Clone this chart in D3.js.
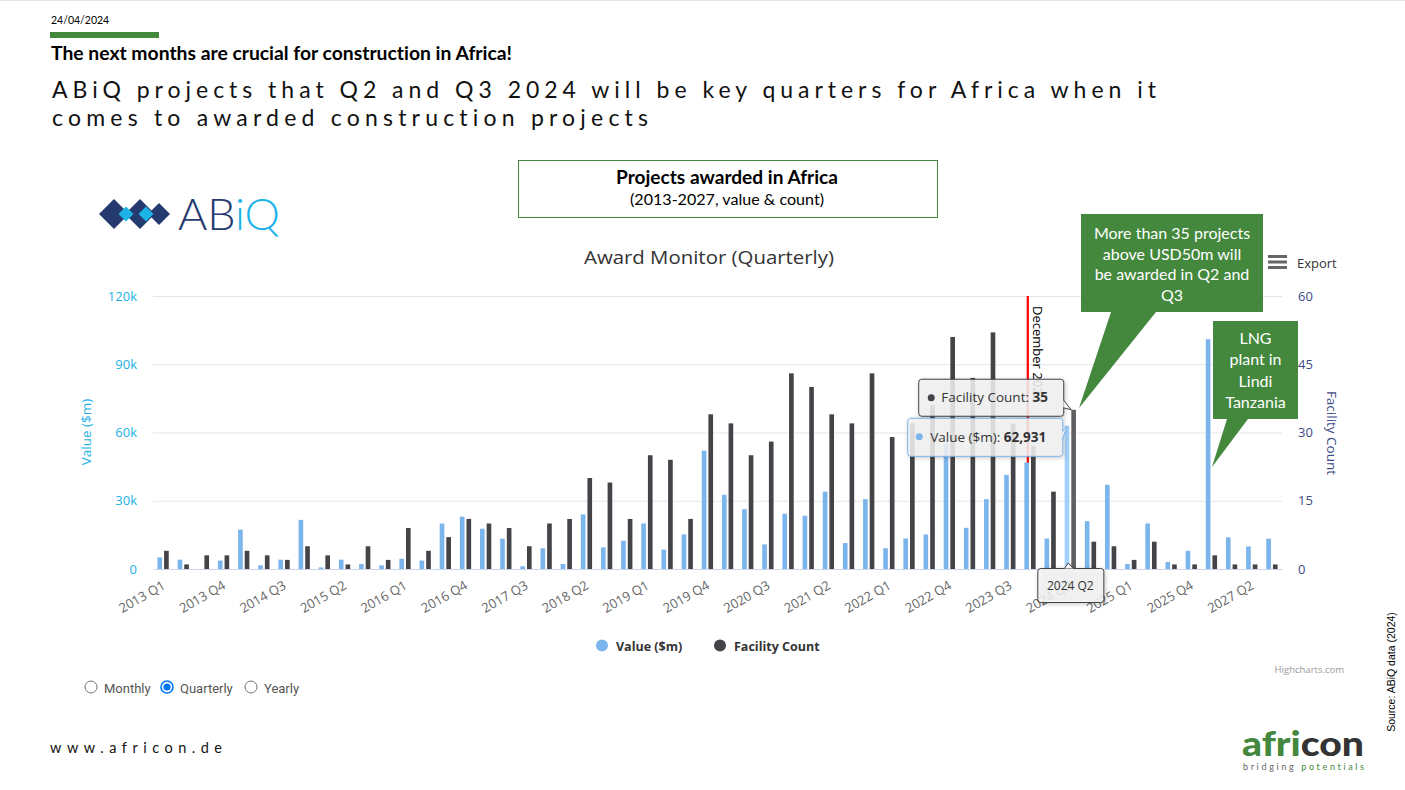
<!DOCTYPE html>
<html lang="en">
<head>
<meta charset="UTF-8">
<title>Projects awarded in Africa</title>
<script src="https://d3js.org/d3.v7.min.js"></script>
<style>
  body { margin: 0; background: #fff; }
  svg { display: block; }
  .slide { font-family: Lato, "Open Sans", sans-serif; font-variant-ligatures: none; }
  .chart text { font-family: "Open Sans", sans-serif; }
</style>
</head>
<body>
<svg id="slide" class="slide" width="1405" height="790"></svg>
<script>
// quarters on the x axis (2026/2027 have gaps in the source)
const categories = [
  "2013 Q1","2013 Q2","2013 Q3","2013 Q4","2014 Q1","2014 Q2","2014 Q3","2014 Q4",
  "2015 Q1","2015 Q2","2015 Q3","2015 Q4","2016 Q1","2016 Q2","2016 Q3","2016 Q4",
  "2017 Q1","2017 Q2","2017 Q3","2017 Q4","2018 Q1","2018 Q2","2018 Q3","2018 Q4",
  "2019 Q1","2019 Q2","2019 Q3","2019 Q4","2020 Q1","2020 Q2","2020 Q3","2020 Q4",
  "2021 Q1","2021 Q2","2021 Q3","2021 Q4","2022 Q1","2022 Q2","2022 Q3","2022 Q4",
  "2023 Q1","2023 Q2","2023 Q3","2023 Q4","2024 Q1","2024 Q2","2024 Q3","2024 Q4",
  "2025 Q1","2025 Q2","2025 Q3","2025 Q4","2026 Q2","2026 Q4","2027 Q2","2027 Q3"
];
// awarded value, $m
const values = [
  5100, 4100, 0, 3700, 17300, 1600, 4100, 21600,
  700, 4100, 2200, 1600, 4500, 3700, 20000, 23000,
  17700, 13300, 1200, 9100, 2200, 24000, 9500, 12400,
  20000, 8500, 15200, 52000, 32600, 26300, 10800, 24300,
  23400, 34000, 11400, 30700, 9100, 13400, 15200, 55000,
  18100, 30700, 41400, 46800, 13400, 62931, 21000, 37000,
  2200, 20000, 3100, 8000, 101000, 13900, 9900, 13300
];
// number of facilities awarded
const counts = [
  4, 1, 3, 3, 4, 3, 2, 5,
  3, 1, 5, 2, 9, 4, 7, 11,
  10, 9, 5, 10, 11, 20, 19, 11,
  25, 24, 11, 34, 32, 25, 28, 43,
  40, 34, 32, 43, 29, 32, 36, 51,
  42, 52, 32, 27, 17, 35, 6, 5,
  2, 6, 1, 1, 3, 1, 1, 1
];
const valueTicks = [0, 30000, 60000, 90000, 120000];
const countTicks = [0, 15, 30, 45, 60];
const seriesNames = ["Value ($m)", "Facility Count"];
const highlighted = "2024 Q2";
const markerCategory = "2023 Q4";
const markerLabel = "December 2023";
const radioOptions = ["Monthly", "Quarterly", "Yearly"];

const blue = "#7cb5ec", dark = "#434348", green = "#43883d";
const svg = d3.select("#slide");

// ---------- slide header ----------
svg.append("line").attr("x1", 0).attr("x2", 1405).attr("y1", 0.5).attr("y2", 0.5)
  .attr("stroke", "#e4e4e4");
svg.append("text").attr("x", 51).attr("y", 24).attr("font-size", 10.5).attr("fill", "#000")
  .text("24/04/2024");
svg.append("rect").attr("x", 50).attr("y", 32).attr("width", 109).attr("height", 6).attr("fill", green);
svg.append("text").attr("x", 51).attr("y", 60).attr("font-size", 18).attr("font-weight", 700)
  .attr("textLength", 461).attr("lengthAdjust", "spacingAndGlyphs")
  .text("The next months are crucial for construction in Africa!");
svg.append("text").attr("x", 52).attr("y", 98).attr("font-size", 23).attr("fill", "#111")
  .attr("textLength", 1104).attr("lengthAdjust", "spacing")
  .text("ABiQ projects that Q2 and Q3 2024 will be key quarters for Africa when it");
svg.append("text").attr("x", 52).attr("y", 126).attr("font-size", 23).attr("fill", "#111")
  .attr("textLength", 596).attr("lengthAdjust", "spacing")
  .text("comes to awarded construction projects");

// boxed heading
svg.append("rect").attr("x", 518.5).attr("y", 160.5).attr("width", 419).attr("height", 57)
  .attr("fill", "none").attr("stroke", green);
svg.append("text").attr("x", 727).attr("y", 184).attr("text-anchor", "middle")
  .attr("font-size", 18).attr("font-weight", 700).attr("textLength", 222)
  .attr("lengthAdjust", "spacingAndGlyphs").text("Projects awarded in Africa");
svg.append("text").attr("x", 727).attr("y", 205).attr("text-anchor", "middle")
  .attr("font-size", 14.5).attr("textLength", 194).attr("lengthAdjust", "spacingAndGlyphs")
  .text("(2013-2027, value & count)");

// ABiQ logo
const logo = svg.append("g");
const diamond = (cx, cy, r) => `M${cx - r},${cy} L${cx},${cy - r} L${cx + r},${cy} L${cx},${cy + r} Z`;
logo.append("path").attr("d", diamond(114, 214, 15)).attr("fill", "#253a6e");
logo.append("path").attr("d", diamond(140, 214, 15)).attr("fill", "#253a6e");
logo.append("path").attr("d", diamond(159, 214, 11)).attr("fill", "#253a6e");
logo.append("path").attr("d", diamond(126, 214, 7.5)).attr("fill", "#1db3e6");
logo.append("path").attr("d", diamond(146, 214, 7.5)).attr("fill", "#1db3e6");
const abiq = logo.append("text").attr("x", 178).attr("y", 230).attr("font-size", 44)
  .attr("font-weight", 300).attr("textLength", 102).attr("lengthAdjust", "spacingAndGlyphs");
abiq.append("tspan").attr("fill", "#253a6e").text("AB");
abiq.append("tspan").attr("fill", "#1db3e6").text("iQ");

// ---------- chart ----------
const chart = svg.append("g").attr("class", "chart");
const plotL = 153, plotR = 1282, plotT = 296, plotB = 569;

const x = d3.scaleBand().domain(categories).range([plotL, plotR]);
const xs = d3.scaleBand().domain(["value", "count"])
  .range([x.bandwidth() * 0.22, x.bandwidth() * 0.78]).paddingInner(0.3);
const yL = d3.scaleLinear().domain([0, 120000]).range([plotB, plotT]);
const yR = d3.scaleLinear().domain([0, 60]).range([plotB, plotT]);

chart.append("text").attr("x", 709).attr("y", 264).attr("text-anchor", "middle")
  .attr("font-size", 19).attr("fill", "#333").attr("textLength", 250)
  .attr("lengthAdjust", "spacingAndGlyphs").text("Award Monitor (Quarterly)");

// gridlines
chart.append("g")
  .attr("transform", `translate(${plotL},0)`)
  .call(d3.axisLeft(yL).tickValues(valueTicks).tickSize(-(plotR - plotL)).tickFormat(""))
  .call(g => g.select(".domain").remove())
  .call(g => g.selectAll("line").attr("stroke", "#e6e6e6"));

// left axis
chart.append("g")
  .attr("transform", `translate(${plotL - 16},0)`)
  .call(d3.axisLeft(yL).tickValues(valueTicks).tickSize(0)
    .tickFormat(d => d === 0 ? "0" : d / 1000 + "k"))
  .call(g => g.select(".domain").remove())
  .call(g => g.selectAll("text").attr("fill", "#22b1e6").attr("font-size", 13).attr("x", 0));
chart.append("text").attr("transform", "translate(91,432) rotate(-90)")
  .attr("text-anchor", "middle").attr("font-size", 13.5).attr("fill", "#22b1e6").text("Value ($m)");

// right axis
chart.append("g")
  .attr("transform", `translate(${plotR + 16},0)`)
  .call(d3.axisRight(yR).tickValues(countTicks).tickSize(0))
  .call(g => g.select(".domain").remove())
  .call(g => g.selectAll("text").attr("fill", "#3d4b86").attr("font-size", 13).attr("x", 0));
chart.append("text").attr("transform", "translate(1327,433) rotate(90)")
  .attr("text-anchor", "middle").attr("font-size", 13.5).attr("fill", "#3d4b86").text("Facility Count");

// plot line for December 2023 (sits behind the bars)
const mx = x(markerCategory) + xs("value") + xs.bandwidth() - 1.2;
chart.append("line").attr("x1", mx).attr("x2", mx).attr("y1", plotT).attr("y2", plotB)
  .attr("stroke", "#ff0000").attr("stroke-width", 2.2);
chart.append("text").attr("transform", `translate(${mx + 5},${plotT + 10}) rotate(90)`)
  .attr("font-size", 13).attr("fill", "#000").text(markerLabel);

// bars
const groups = chart.append("g").selectAll("g").data(categories).join("g")
  .attr("transform", d => `translate(${x(d)},0)`);
groups.append("rect")
  .attr("x", xs("value")).attr("width", xs.bandwidth())
  .attr("y", (d, i) => yL(values[i])).attr("height", (d, i) => plotB - yL(values[i]))
  .attr("fill", d => d === highlighted ? "#a3d0fb" : blue);
groups.append("rect")
  .attr("x", xs("count")).attr("width", xs.bandwidth())
  .attr("y", (d, i) => yR(counts[i])).attr("height", (d, i) => plotB - yR(counts[i]))
  .attr("fill", d => d === highlighted ? "#5e5e63" : dark);

// x axis
chart.append("g")
  .attr("transform", `translate(0,${plotB})`)
  .call(d3.axisBottom(x).tickValues(categories.filter((d, i) => i % 3 === 0)).tickSize(0))
  .call(g => g.select(".domain").attr("stroke", "#ccd6eb"))
  .call(g => g.selectAll("text")
    .attr("fill", "#666").attr("font-size", 13)
    .attr("text-anchor", "end").attr("y", 0).attr("dy", 0)
    .attr("transform", "translate(3,19) rotate(-30)"));

// split tooltip for the highlighted quarter
const hi = categories.indexOf(highlighted);
const hx = x(highlighted);
const tip = chart.append("g");
const tipBox = (bx, by, w, h, stroke) => tip.append("rect")
  .attr("x", bx + 0.5).attr("y", by + 0.5).attr("width", w).attr("height", h).attr("rx", 3)
  .attr("fill", "rgba(247,247,247,0.85)").attr("stroke", stroke)
  .style("filter", "drop-shadow(1px 1px 2px rgba(0,0,0,0.25))");

const cyTop = yR(counts[hi]);
tipBox(hx - 142, cyTop - 31, 145, 37, dark);
tip.append("path")
  .attr("d", `M${hx + 3},${cyTop - 10} L${hx + 11},${cyTop} L${hx + 3},${cyTop - 2}`)
  .attr("fill", "rgba(247,247,247,0.85)").attr("stroke", dark);
tip.append("circle").attr("cx", hx - 129).attr("cy", cyTop - 12).attr("r", 3.5).attr("fill", dark);
const t1 = tip.append("text").attr("x", hx - 119).attr("y", cyTop - 7.5).attr("font-size", 13.5).attr("fill", "#333");
t1.append("tspan").text(seriesNames[1] + ": ");
t1.append("tspan").attr("font-weight", 700).text(counts[hi]);

const vyTop = yL(values[hi]);
tipBox(hx - 153, vyTop - 8, 155, 38, blue);
tip.append("path")
  .attr("d", `M${hx + 2},${vyTop + 6} L${hx + 7},${vyTop} L${hx + 2},${vyTop + 14}`)
  .attr("fill", "rgba(247,247,247,0.85)").attr("stroke", blue);
tip.append("circle").attr("cx", hx - 141).attr("cy", vyTop + 11).attr("r", 3.5).attr("fill", blue);
const t2 = tip.append("text").attr("x", hx - 130).attr("y", vyTop + 16).attr("font-size", 13.5).attr("fill", "#333");
t2.append("tspan").text(seriesNames[0] + ": ");
t2.append("tspan").attr("font-weight", 700).text(d3.format(",")(values[hi]));

// category header on the axis
const cx = hx + x.bandwidth() / 2;
tipBox(cx - 33, plotB - 1, 66, 34, "#444");
tip.append("path")
  .attr("d", `M${cx - 6},${plotB - 0.5} L${cx - 2},${plotB - 6} L${cx + 3},${plotB - 0.5}`)
  .attr("fill", "rgba(247,247,247,0.95)").attr("stroke", "#444");
tip.append("text").attr("x", cx).attr("y", plotB + 21).attr("text-anchor", "middle")
  .attr("font-size", 12).attr("fill", "#333").text(highlighted);

// legend
const legend = chart.append("g");
[[602, blue, seriesNames[0]], [720, dark, seriesNames[1]]].forEach(([lx, c, name]) => {
  legend.append("circle").attr("cx", lx).attr("cy", 645.5).attr("r", 6).attr("fill", c);
  legend.append("text").attr("x", lx + 14).attr("y", 650.5).attr("font-size", 12.5)
    .attr("font-weight", 700).attr("fill", "#333").text(name);
});

chart.append("text").attr("x", 1344).attr("y", 673).attr("text-anchor", "end")
  .attr("font-size", 9.5).attr("fill", "#999").text("Highcharts.com");

// export button
[255, 260.5, 266].forEach(hy => chart.append("rect").attr("x", 1268).attr("y", hy)
  .attr("width", 19).attr("height", 3).attr("fill", "#666"));
chart.append("text").attr("x", 1297).attr("y", 268).attr("font-size", 13).attr("fill", "#333").text("Export");

// radio buttons
const radioX = [91, 167, 251];
radioOptions.forEach((name, i) => {
  const rx = radioX[i];
  if (name === "Quarterly") {
    svg.append("circle").attr("cx", rx).attr("cy", 687).attr("r", 6).attr("fill", "#fff")
      .attr("stroke", "#0075ff").attr("stroke-width", 1.6);
    svg.append("circle").attr("cx", rx).attr("cy", 687).attr("r", 3.6).attr("fill", "#0075ff");
  } else {
    svg.append("circle").attr("cx", rx).attr("cy", 687).attr("r", 6).attr("fill", "#fff")
      .attr("stroke", "#767676").attr("stroke-width", 1);
  }
  svg.append("text").attr("x", rx + 13).attr("y", 692.5).attr("font-family", "Roboto")
    .attr("font-size", 13).attr("fill", "#555").text(name);
});

// callouts
const callout = (x0, y0, x1, y1, b1, b2, tx, ty, lines, lineY, lh) => {
  svg.append("path")
    .attr("d", `M${x0},${y0} H${x1} V${y1} H${b2} L${tx},${ty} L${b1},${y1} H${x0} Z`)
    .attr("fill", green);
  lines.forEach((l, i) => svg.append("text").attr("x", (x0 + x1) / 2).attr("y", lineY + i * lh)
    .attr("text-anchor", "middle").attr("font-size", 16).attr("fill", "#fff").text(l));
};
callout(1081, 214, 1263, 312, 1111, 1156, 1079, 408,
  ["More than 35 projects", "above USD50m will", "be awarded in Q2 and", "Q3"], 239, 20.7);
callout(1213, 321, 1298, 419, 1227, 1248, 1212, 467,
  ["LNG", "plant in", "Lindi", "Tanzania"], 344, 21.3);

// footer
svg.append("text").attr("x", 50).attr("y", 753).attr("font-size", 14.5).attr("fill", "#111")
  .attr("textLength", 172).attr("lengthAdjust", "spacing").text("www.africon.de");
svg.append("text").attr("x", 1242).attr("y", 756).attr("font-size", 35)
  .attr("font-weight", 900).attr("textLength", 122).attr("lengthAdjust", "spacingAndGlyphs")
  .call(t => t.append("tspan").attr("fill", green).text("afri"))
  .call(t => t.append("tspan").attr("fill", "#333").text("con"));
svg.append("text").attr("x", 1243).attr("y", 770).attr("font-size", 9)
  .attr("textLength", 121).attr("lengthAdjust", "spacing")
  .call(t => t.append("tspan").attr("fill", "#666").text("bridging "))
  .call(t => t.append("tspan").attr("fill", green).text("potentials"));
svg.append("text").attr("transform", "translate(1395,672) rotate(-90)")
  .attr("text-anchor", "middle").attr("font-family", "Liberation Sans, Arial")
  .attr("font-size", 10.5).attr("fill", "#000").text("Source: ABiQ data (2024)");
</script>
</body>
</html>
